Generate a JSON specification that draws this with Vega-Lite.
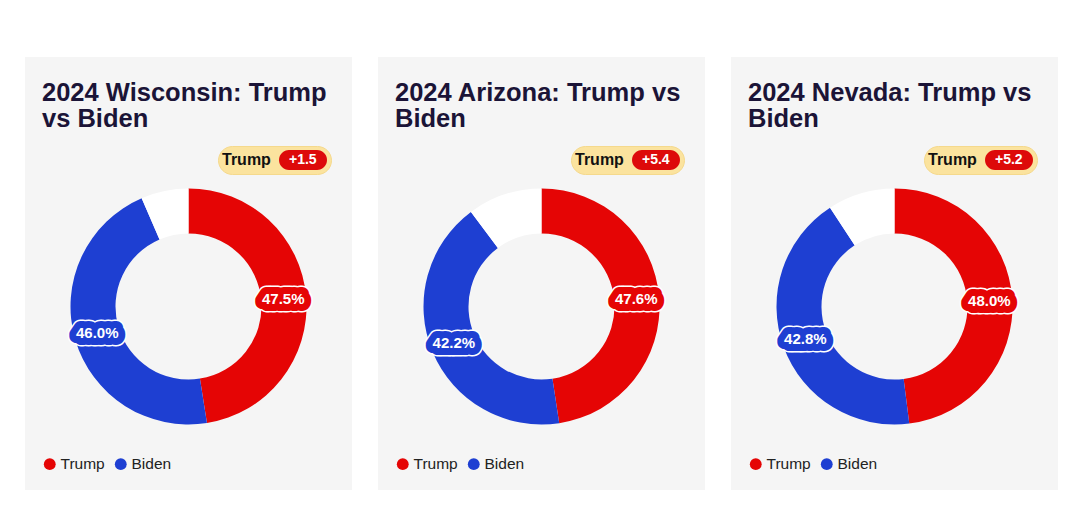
{
  "$schema": "https://vega.github.io/schema/vega-lite/v6.json",
  "padding": {"left": 25, "top": 57, "right": 0, "bottom": 0},
  "background": "#ffffff",
  "spacing": 26,
  "datasets": {
    "wi": [
      {"c": "Trump", "share": 0.475, "lead": "+1.5"},
      {"c": "Biden", "share": 0.460, "lead": "+1.5"},
      {"c": "Other", "share": 0.065, "lead": "+1.5"}
    ],
    "az": [
      {"c": "Trump", "share": 0.476, "lead": "+5.4"},
      {"c": "Biden", "share": 0.422, "lead": "+5.4"},
      {"c": "Other", "share": 0.102, "lead": "+5.4"}
    ],
    "nv": [
      {"c": "Trump", "share": 0.480, "lead": "+5.2"},
      {"c": "Biden", "share": 0.428, "lead": "+5.2"},
      {"c": "Other", "share": 0.092, "lead": "+5.2"}
    ]
  },
  "hconcat": [
    {
      "width": 327, "height": 433,
      "view": {"fill": "#f5f5f5", "stroke": null},
      "title": {"text": ["2024 Wisconsin: Trump", "vs Biden"]},
      "data": {"name": "wi"},
      "layer": [
        {
          "mark": {"type": "arc", "outerRadius": 118, "innerRadius": 73, "yOffset": 33},
          "encoding": {
            "theta": {"field": "share", "type": "quantitative", "stack": true},
            "order": {"field": "share", "sort": "descending"},
            "color": {"field": "c", "type": "nominal", "scale": {"domain": ["Trump", "Biden", "Other"], "range": ["#e50505", "#1e3fd2", "#ffffff"]},
              "legend": {"values": ["Trump", "Biden"], "title": null, "orient": "bottom-left", "offset": 17, "direction": "horizontal", "symbolType": "circle", "symbolSize": 140, "symbolStrokeWidth": 0, "labelFont": "Liberation Sans", "labelFontSize": 15.5, "labelColor": "#222222", "columnPadding": 8, "labelOffset": 3}},
            "opacity": {"field": "lead", "type": "ordinal", "scale": {"range": [1, 1]},
              "legend": {"title": "Trump", "orient": "none", "legendX": 193, "legendY": 89, "titleOrient": "left", "titleFont": "Liberation Sans", "titleFontSize": 16, "titleFontWeight": "bold", "titleColor": "#111111", "titlePadding": 8, "fillColor": "#fbe39e", "strokeColor": "#f5d98c", "cornerRadius": 14, "padding": 4, "symbolType": "M0,-1L2.8,-1A1,1 0 0 1 2.8,1L0,1A1,1 0 0 1 0,-1Z", "symbolSize": 400, "symbolFillColor": "#dd0a0a", "symbolStrokeWidth": 0, "symbolOpacity": 1, "symbolOffset": 0, "labelColor": "#ffffff", "labelFont": "Liberation Sans", "labelFontWeight": "bold", "labelFontSize": 14, "labelOffset": -10}}
          }
        },
        {
          "transform": [{"filter": "datum.c != 'Other'"}],
          "mark": {"type": "text", "radius": 95, "yOffset": 33, "fontSize": 15, "fontWeight": "bold", "fill": "#ffffff", "stroke": "#ffffff", "strokeWidth": 17, "strokeJoin": "round"},
          "encoding": {
            "theta": {"field": "share", "type": "quantitative", "stack": true},
            "order": {"field": "share", "sort": "descending"},
            "text": {"field": "share", "format": ".1%"}
          }
        },
        {
          "transform": [{"filter": "datum.c != 'Other'"}],
          "mark": {"type": "text", "radius": 95, "yOffset": 33, "fontSize": 15, "fontWeight": "bold", "strokeWidth": 14, "strokeJoin": "round"},
          "encoding": {
            "theta": {"field": "share", "type": "quantitative", "stack": true},
            "order": {"field": "share", "sort": "descending"},
            "text": {"field": "share", "format": ".1%"},
            "color": {"field": "c", "type": "nominal"},
            "stroke": {"field": "c", "type": "nominal", "scale": {"domain": ["Trump", "Biden", "Other"], "range": ["#e50505", "#1e3fd2", "#ffffff"]}, "legend": null}
          }
        },
        {
          "transform": [{"filter": "datum.c != 'Other'"}],
          "mark": {"type": "text", "radius": 95, "yOffset": 33, "fontSize": 15, "fontWeight": "bold", "fill": "#ffffff"},
          "encoding": {
            "theta": {"field": "share", "type": "quantitative", "stack": true},
            "order": {"field": "share", "sort": "descending"},
            "text": {"field": "share", "format": ".1%"}
          }
        }
      ]
    },
    {
      "width": 327, "height": 433,
      "view": {"fill": "#f5f5f5", "stroke": null},
      "title": {"text": ["2024 Arizona: Trump vs", "Biden"]},
      "data": {"name": "az"},
      "layer": [
        {
          "mark": {"type": "arc", "outerRadius": 118, "innerRadius": 73, "yOffset": 33},
          "encoding": {
            "theta": {"field": "share", "type": "quantitative", "stack": true},
            "order": {"field": "share", "sort": "descending"},
            "color": {"field": "c", "type": "nominal", "scale": {"domain": ["Trump", "Biden", "Other"], "range": ["#e50505", "#1e3fd2", "#ffffff"]},
              "legend": {"values": ["Trump", "Biden"], "title": null, "orient": "bottom-left", "offset": 17, "direction": "horizontal", "symbolType": "circle", "symbolSize": 140, "symbolStrokeWidth": 0, "labelFont": "Liberation Sans", "labelFontSize": 15.5, "labelColor": "#222222", "columnPadding": 8, "labelOffset": 3}},
            "opacity": {"field": "lead", "type": "ordinal", "scale": {"range": [1, 1]},
              "legend": {"title": "Trump", "orient": "none", "legendX": 193, "legendY": 89, "titleOrient": "left", "titleFont": "Liberation Sans", "titleFontSize": 16, "titleFontWeight": "bold", "titleColor": "#111111", "titlePadding": 8, "fillColor": "#fbe39e", "strokeColor": "#f5d98c", "cornerRadius": 14, "padding": 4, "symbolType": "M0,-1L2.8,-1A1,1 0 0 1 2.8,1L0,1A1,1 0 0 1 0,-1Z", "symbolSize": 400, "symbolFillColor": "#dd0a0a", "symbolStrokeWidth": 0, "symbolOpacity": 1, "symbolOffset": 0, "labelColor": "#ffffff", "labelFont": "Liberation Sans", "labelFontWeight": "bold", "labelFontSize": 14, "labelOffset": -10}}
          }
        },
        {
          "transform": [{"filter": "datum.c != 'Other'"}],
          "mark": {"type": "text", "radius": 95, "yOffset": 33, "fontSize": 15, "fontWeight": "bold", "fill": "#ffffff", "stroke": "#ffffff", "strokeWidth": 17, "strokeJoin": "round"},
          "encoding": {
            "theta": {"field": "share", "type": "quantitative", "stack": true},
            "order": {"field": "share", "sort": "descending"},
            "text": {"field": "share", "format": ".1%"}
          }
        },
        {
          "transform": [{"filter": "datum.c != 'Other'"}],
          "mark": {"type": "text", "radius": 95, "yOffset": 33, "fontSize": 15, "fontWeight": "bold", "strokeWidth": 14, "strokeJoin": "round"},
          "encoding": {
            "theta": {"field": "share", "type": "quantitative", "stack": true},
            "order": {"field": "share", "sort": "descending"},
            "text": {"field": "share", "format": ".1%"},
            "color": {"field": "c", "type": "nominal"},
            "stroke": {"field": "c", "type": "nominal", "scale": {"domain": ["Trump", "Biden", "Other"], "range": ["#e50505", "#1e3fd2", "#ffffff"]}, "legend": null}
          }
        },
        {
          "transform": [{"filter": "datum.c != 'Other'"}],
          "mark": {"type": "text", "radius": 95, "yOffset": 33, "fontSize": 15, "fontWeight": "bold", "fill": "#ffffff"},
          "encoding": {
            "theta": {"field": "share", "type": "quantitative", "stack": true},
            "order": {"field": "share", "sort": "descending"},
            "text": {"field": "share", "format": ".1%"}
          }
        }
      ]
    },
    {
      "width": 327, "height": 433,
      "view": {"fill": "#f5f5f5", "stroke": null},
      "title": {"text": ["2024 Nevada: Trump vs", "Biden"]},
      "data": {"name": "nv"},
      "layer": [
        {
          "mark": {"type": "arc", "outerRadius": 118, "innerRadius": 73, "yOffset": 33},
          "encoding": {
            "theta": {"field": "share", "type": "quantitative", "stack": true},
            "order": {"field": "share", "sort": "descending"},
            "color": {"field": "c", "type": "nominal", "scale": {"domain": ["Trump", "Biden", "Other"], "range": ["#e50505", "#1e3fd2", "#ffffff"]},
              "legend": {"values": ["Trump", "Biden"], "title": null, "orient": "bottom-left", "offset": 17, "direction": "horizontal", "symbolType": "circle", "symbolSize": 140, "symbolStrokeWidth": 0, "labelFont": "Liberation Sans", "labelFontSize": 15.5, "labelColor": "#222222", "columnPadding": 8, "labelOffset": 3}},
            "opacity": {"field": "lead", "type": "ordinal", "scale": {"range": [1, 1]},
              "legend": {"title": "Trump", "orient": "none", "legendX": 193, "legendY": 89, "titleOrient": "left", "titleFont": "Liberation Sans", "titleFontSize": 16, "titleFontWeight": "bold", "titleColor": "#111111", "titlePadding": 8, "fillColor": "#fbe39e", "strokeColor": "#f5d98c", "cornerRadius": 14, "padding": 4, "symbolType": "M0,-1L2.8,-1A1,1 0 0 1 2.8,1L0,1A1,1 0 0 1 0,-1Z", "symbolSize": 400, "symbolFillColor": "#dd0a0a", "symbolStrokeWidth": 0, "symbolOpacity": 1, "symbolOffset": 0, "labelColor": "#ffffff", "labelFont": "Liberation Sans", "labelFontWeight": "bold", "labelFontSize": 14, "labelOffset": -10}}
          }
        },
        {
          "transform": [{"filter": "datum.c != 'Other'"}],
          "mark": {"type": "text", "radius": 95, "yOffset": 33, "fontSize": 15, "fontWeight": "bold", "fill": "#ffffff", "stroke": "#ffffff", "strokeWidth": 17, "strokeJoin": "round"},
          "encoding": {
            "theta": {"field": "share", "type": "quantitative", "stack": true},
            "order": {"field": "share", "sort": "descending"},
            "text": {"field": "share", "format": ".1%"}
          }
        },
        {
          "transform": [{"filter": "datum.c != 'Other'"}],
          "mark": {"type": "text", "radius": 95, "yOffset": 33, "fontSize": 15, "fontWeight": "bold", "strokeWidth": 14, "strokeJoin": "round"},
          "encoding": {
            "theta": {"field": "share", "type": "quantitative", "stack": true},
            "order": {"field": "share", "sort": "descending"},
            "text": {"field": "share", "format": ".1%"},
            "color": {"field": "c", "type": "nominal"},
            "stroke": {"field": "c", "type": "nominal", "scale": {"domain": ["Trump", "Biden", "Other"], "range": ["#e50505", "#1e3fd2", "#ffffff"]}, "legend": null}
          }
        },
        {
          "transform": [{"filter": "datum.c != 'Other'"}],
          "mark": {"type": "text", "radius": 95, "yOffset": 33, "fontSize": 15, "fontWeight": "bold", "fill": "#ffffff"},
          "encoding": {
            "theta": {"field": "share", "type": "quantitative", "stack": true},
            "order": {"field": "share", "sort": "descending"},
            "text": {"field": "share", "format": ".1%"}
          }
        }
      ]
    }
  ],
  "resolve": {
    "scale": {"color": "independent", "opacity": "independent", "stroke": "independent", "theta": "independent"},
    "legend": {"color": "independent", "opacity": "independent"}
  },
  "config": {
    "font": "Liberation Sans",
    "view": {"fill": "#f5f5f5", "stroke": null},
    "title": {"anchor": "start", "frame": "group", "font": "Liberation Sans", "fontSize": 25.5, "fontWeight": "bold", "color": "#1b1437", "lineHeight": 26, "baseline": "top", "offset": -75, "dx": 17}
  }
}
